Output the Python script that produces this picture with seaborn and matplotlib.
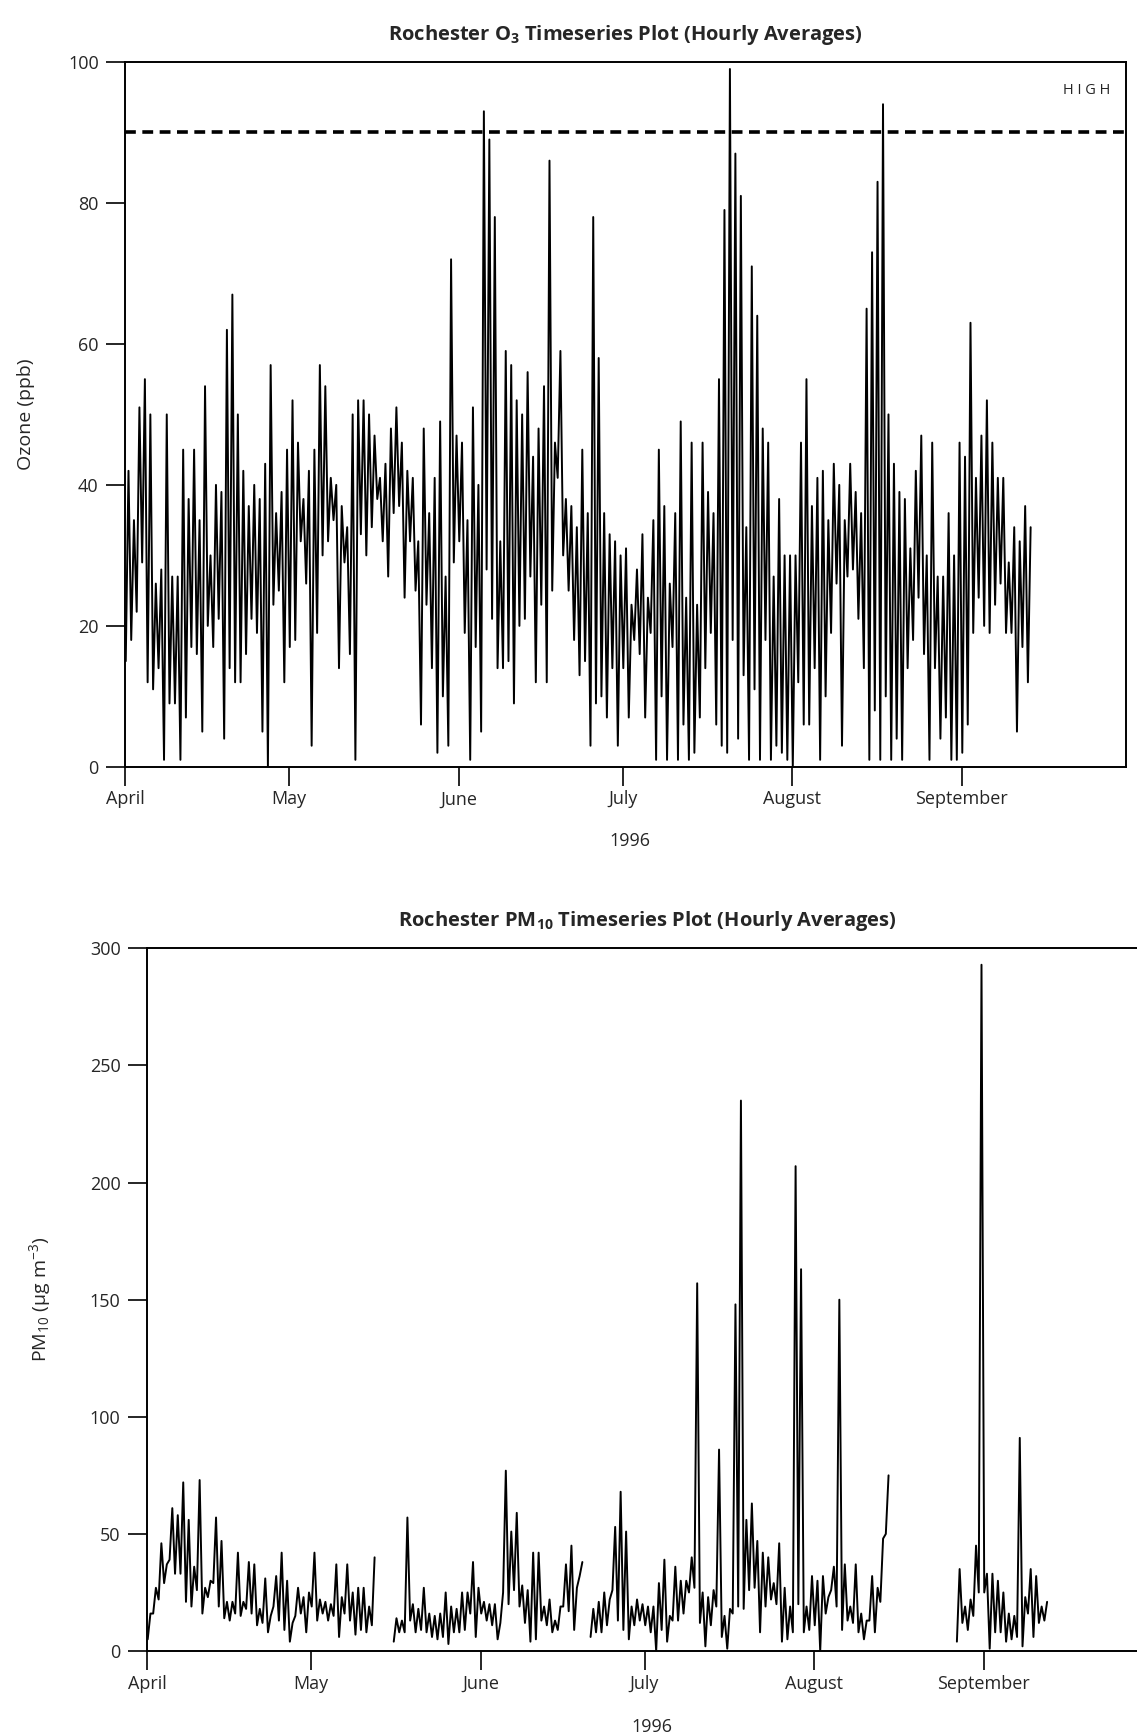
import numpy as np
import pandas as pd
import matplotlib
matplotlib.use("Agg")
import matplotlib.pyplot as plt
import matplotlib.dates as mdates
import seaborn as sns

# dati: minimo e massimo giornaliero delle medie orarie
# giorno 0 = 1 aprile 1996
start = pd.Timestamp("1996-04-01")

o3_high = [42, 35, 51, 55, 50, 26, 28, 50, 27, 27, 45, 38, 45, 35, 54, 30, 40, 39, 62, 67,
           50, 42, 37, 40, 38, 43, 57, 36, 39, 45, 52, 46, 38, 42, 45, 57, 54, 41, 40, 37,
           34, 50, 52, 52, 50, 47, 41, 43, 48, 51, 46, 42, 41, 32, 48, 36, 41, 49, 27, 72,
           47,
           46, 35, 51, 40, 93, 89, 78, 32, 59, 57, 52, 50, 56, 44, 48, 54, 86, 46, 59, 38,
           37, 34, 45, 36, 78, 58, 36, 33, 32, 30, 31, 23, 28, 33, 24, 35, 45, 37, 26, 36,
           49, 24, 46, 23, 46, 39, 36, 55, 79, 99, 87, 81, 34, 71, 64, 48, 46, 27, 38, 30,
           30, 30,
           46, 55, 37, 41, 42, 35, 43, 40, 35, 43, 39, 36, 65, 73, 83, 94, 50, 43, 39, 38,
           31, 42, 47, 30, 46, 27, 27, 36, 30, 46, 44, 63, 41, 47, 52, 46, 41, 41, 29, 34,
           32, 37, 34]
o3_low = [15, 18, 22, 29, 12, 11, 14, 1, 9, 9, 1, 7, 17, 16, 5, 20, 17, 21, 4, 14,
          12, 12, 16, 21, 19, 5, 0, 23, 25, 12, 17, 18, 32, 26, 3, 19, 30, 32, 35, 14,
          29, 16, 1, 33, 30, 34, 38, 32, 27, 36, 37, 24, 32, 25, 6, 23, 14, 2, 10, 3,
          29,
          32, 19, 1, 17, 5, 28, 21, 14, 14, 15, 9, 20, 21, 27, 12, 23, 12, 25, 41, 30,
          25, 18, 13, 15, 3, 9, 10, 7, 14, 3, 14, 7, 18, 16, 7, 19, 1, 10, 1, 17,
          1, 6, 1, 2, 7, 14, 19, 6, 3, 2, 18, 4, 13, 1, 11, 1, 18, 1, 3, 2,
          1, 0,
          12, 6, 6, 14, 1, 10, 19, 26, 3, 27, 28, 21, 14, 1, 8, 1, 10, 1, 4, 1,
          14, 18, 24, 16, 1, 14, 4, 7, 1, 1, 2, 6, 19, 24, 20, 19, 23, 26, 19, 19,
          5, 17, 12]

nan = np.nan
pm_high = [16, 27, 46, 37, 61, 58, 72, 56, 36, 73, 27, 30, 57, 47, 21, 21, 42, 21, 38, 37,
           18, 31, 15, 32, 42, 30, 12, 27, 23, 25, 42, 22, 21, 20, 37, 23, 37, 25, 27, 27,
           19, 40, nan, nan, nan, 14, 13, 57, 20, 18, 27, 16, 15, 16, 25, 19, 18, 25, 25, 38,
           27, 21, 20, 20, 12, 77, 51, 59, 28, 26, 42, 42, 19, 22, 13, 19, 37, 45, 27, 38,
           nan, 18, 21, 25, 22, 53, 68, 51, 19, 22, 20, 19, 19, 29, 39, 15, 36, 30, 30, 40,
           157, 25, 23, 26, 86, 15, 18, 148, 235, 56, 63, 47, 42, 40, 29, 46, 27, 19, 207, 163,
           19, 32, 30, 32, 23, 36, 150, 37, 19, 37, 16, 13, 32, 27, 48, 75, nan, nan, nan, nan,
           nan, nan, nan, nan, nan, nan, nan, nan, 35, 19, 22, 45, 293, 33, 33, 30, 25, 16,
           15, 91, 23, 35, 32, 19, 21]
pm_low = [5, 16, 22, 29, 39, 33, 33, 21, 19, 26, 16, 23, 29, 19, 14, 13, 16, 15, 18, 16,
          11, 12, 8, 19, 13, 9, 4, 15, 16, 8, 19, 13, 16, 13, 15, 6, 16, 13, 7, 9,
          8, 11, nan, nan, nan, 4, 8, 8, 13, 8, 9, 8, 6, 5, 6, 3, 8, 8, 9, 16,
          6, 16, 13, 11, 5, 25, 20, 26, 19, 12, 4, 5, 13, 11, 8, 9, 19, 17, 9, 32,
          nan, 6, 8, 8, 11, 26, 13, 9, 5, 11, 13, 11, 8, 0, 9, 4, 13, 13, 16, 25,
          27, 12, 2, 11, 19, 6, 1, 16, 19, 18, 26, 27, 8, 19, 22, 20, 4, 5, 8, 20,
          8, 9, 11, 0, 16, 26, 19, 9, 13, 12, 8, 5, 13, 8, 21, 50, nan, nan, nan, nan,
          nan, nan, nan, nan, nan, nan, nan, nan, 4, 12, 9, 15, 25, 25, 1, 8, 8, 4,
          5, 6, 2, 16, 6, 12, 13]

HIGH_LEVEL = 90


def serie_oraria(low, high):
    # minimo di notte, massimo nel pomeriggio -> una riga per valore
    righe = []
    for i, (lo, hi) in enumerate(zip(low, high)):
        giorno = start + pd.Timedelta(days=i)
        righe.append((giorno + pd.Timedelta(hours=3), lo))
        righe.append((giorno + pd.Timedelta(hours=15), hi))
    df = pd.DataFrame(righe, columns=["ora", "valore"])
    df["tratto"] = df["valore"].isna().cumsum()
    return df.dropna()


df_o3 = serie_oraria(o3_low, o3_high)
df_pm = serie_oraria(pm_low, pm_high)

sns.set_theme(style="white")
plt.rcParams["font.family"] = ["Open Sans", "DejaVu Sans"]
plt.rcParams["mathtext.default"] = "regular"
plt.rcParams["axes.edgecolor"] = "black"
plt.rcParams["axes.linewidth"] = 1.4

fig = plt.figure(figsize=(11.37, 17.35), dpi=100)
ax1 = fig.add_axes([0.110, 0.558, 0.880, 0.4063])
ax2 = fig.add_axes([0.1293, 0.0484, 0.880, 0.405])

for ax, df in [(ax1, df_o3), (ax2, df_pm)]:
    sns.lineplot(data=df, x="ora", y="valore", units="tratto", estimator=None,
                 sort=False, color="black", linewidth=1.4, ax=ax)

ax1.axhline(HIGH_LEVEL, color="black", linewidth=2.6, linestyle=(0, (3, 1.8)))
ax1.text(0.985, HIGH_LEVEL + 6, "H I G H", transform=ax1.get_yaxis_transform(),
         ha="right", va="center", fontsize=10.5)

for ax, ymax, passo in [(ax1, 100, 20), (ax2, 300, 50)]:
    ax.set_xlim(pd.Timestamp("1996-04-01"), pd.Timestamp("1996-10-01"))
    ax.set_ylim(0, ymax)
    ax.set_yticks(np.arange(0, ymax + 1, passo))
    ax.xaxis.set_major_locator(mdates.MonthLocator(bymonth=range(4, 10)))
    ax.xaxis.set_major_formatter(mdates.DateFormatter("%B"))
    ax.tick_params(axis="x", direction="out", length=14, width=1.4, pad=3, labelsize=13)
    ax.tick_params(axis="y", direction="out", length=14, width=1.4, pad=5, labelsize=13)
    ax.tick_params(bottom=True, left=True)
    for lato in ax.spines.values():
        lato.set_visible(True)

ax1.set_title("Rochester O$_3$ Timeseries Plot (Hourly Averages)",
              fontsize=14.5, fontweight="bold", pad=16)
ax2.set_title("Rochester PM$_{10}$ Timeseries Plot (Hourly Averages)",
              fontsize=14.5, fontweight="bold", pad=16)

ax1.set_ylabel("Ozone (ppb)", fontsize=14)
ax2.set_ylabel("PM$_{10}$ (µg m$^{-3}$)", fontsize=14)
ax1.set_xlabel("1996", fontsize=13)
ax2.set_xlabel("1996", fontsize=13)
ax1.yaxis.set_label_coords(-0.090, 0.5)
ax2.yaxis.set_label_coords(-0.094, 0.5)
ax1.xaxis.set_label_coords(0.505, -0.092)
ax2.xaxis.set_label_coords(0.505, -0.095)

fig.savefig("out.png", dpi=100)
plt.close(fig)
